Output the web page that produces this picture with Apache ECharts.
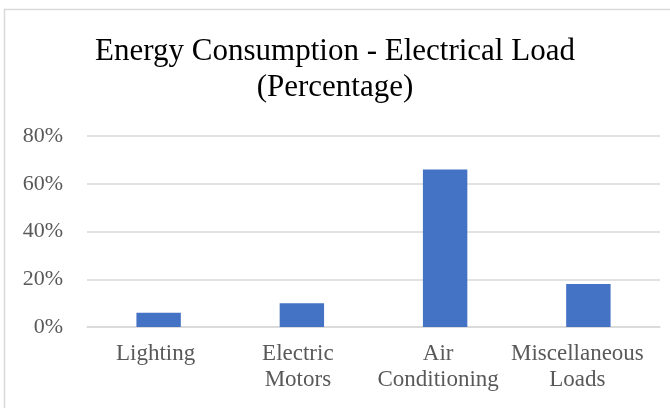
<!DOCTYPE html>
<html>
<head>
<meta charset="utf-8">
<script src="https://cdn.jsdelivr.net/npm/echarts@6/dist/echarts.min.js"></script>
<style>
  html, body { margin: 0; padding: 0; background: #ffffff; }
  #chart { width: 670px; height: 408px; }
</style>
</head>
<body>
<div id="chart"></div>
<script>
// Share of electrical load by end use (percent)
const categories = ['Lighting', 'Electric\nMotors', 'Air\nConditioning', 'Miscellaneous\nLoads'];
const loadShare = [6, 10, 66, 18];
const yTicks = { min: 0, max: 80, interval: 20 };

const serif = '"Liberation Serif", "Times New Roman", serif';
const labelFont = { fontFamily: serif, fontSize: 23, lineHeight: 26, color: '#595959' };

// Category labels lean slightly left, more so toward the right edge
const labelNudge = [3, 4, 7, 11];
const rich = {};
labelNudge.forEach((n, i) => {
  rich['c' + i] = Object.assign({ padding: [0, 2 * n, 0, 0] }, labelFont);
});

const chart = echarts.init(document.getElementById('chart'), null, { renderer: 'canvas' });

chart.setOption({
  animation: false,
  backgroundColor: '#ffffff',
  title: {
    text: 'Energy Consumption - Electrical Load\n(Percentage)',
    left: 'center',
    top: 29,
    textStyle: {
      fontFamily: serif,
      fontWeight: 'normal',
      fontSize: 31,
      lineHeight: 36,
      color: '#000000'
    }
  },
  graphic: [{
    type: 'rect',
    shape: { x: 4.5, y: 9.5, width: 700, height: 500 },
    style: { fill: 'none', stroke: '#d9d9d9', lineWidth: 1.5 },
    silent: true
  }],
  grid: { left: 87, right: 10, top: 136, bottom: 81, containLabel: false },
  xAxis: {
    type: 'category',
    data: categories,
    axisLine: { show: true, lineStyle: { color: '#d9d9d9', width: 1.5 } },
    axisTick: { show: false },
    axisLabel: Object.assign({
      interval: 0,
      margin: 14,
      formatter: (value, index) =>
        value.split('\n').map(line => '{c' + index + '|' + line + '}').join('\n'),
      rich: rich
    }, labelFont)
  },
  yAxis: {
    type: 'value',
    min: yTicks.min,
    max: yTicks.max,
    interval: yTicks.interval,
    axisLine: { show: false },
    axisTick: { show: false },
    splitLine: { lineStyle: { color: '#d9d9d9', width: 1.5 } },
    axisLabel: {
      formatter: '{value}%',
      margin: 24,
      fontFamily: serif,
      fontSize: 22,
      color: '#595959'
    }
  },
  series: [{
    type: 'bar',
    data: loadShare,
    barWidth: '31%',
    itemStyle: { color: '#4472c4' }
  }]
});
</script>
</body>
</html>
